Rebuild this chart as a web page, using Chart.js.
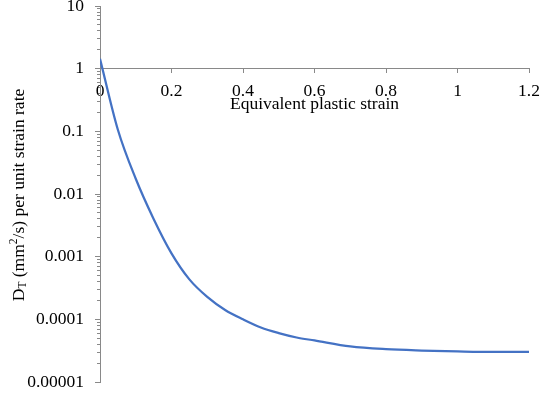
<!DOCTYPE html>
<html>
<head>
<meta charset="utf-8">
<script src="https://cdn.jsdelivr.net/npm/chart.js@4/dist/chart.umd.min.js"></script>
<style>
  html, body { margin: 0; padding: 0; background: #ffffff; }
  #c { display: block; }
</style>
</head>
<body>
<canvas id="c" width="540" height="400"></canvas>
<script>
// ---- data ----
const strain = [0, 0.05, 0.1, 0.15, 0.2, 0.25, 0.3, 0.35, 0.4, 0.45, 0.5, 0.55, 0.6, 0.7, 0.8, 0.9, 1.0, 1.1, 1.2];
const dtValues = [1.44, 0.106, 0.0175, 0.004, 0.00113, 0.000434, 0.000228, 0.000141, 0.0001, 0.0000741, 0.0000603, 0.0000513, 0.000046, 0.0000369, 0.0000334, 0.0000318, 0.0000308, 0.0000302, 0.0000302];
const xTicks = [0, 0.2, 0.4, 0.6, 0.8, 1, 1.2];
const xTickLabels = ['0', '0.2', '0.4', '0.6', '0.8', '1', '1.2'];
const yTickLabels = ['0.00001', '0.0001', '0.001', '0.01', '0.1', '1', '10'];
const xTitle = 'Equivalent plastic strain';
const yTitleParts = ['D', 'T', ' (mm', '2', '/s) per unit strain rate'];

const FONT_FAMILY = "'Liberation Serif', 'Times New Roman', serif";
const FONT = { family: FONT_FAMILY, size: 17.5 };
const AXIS_COLOR = '#898989';
const LINE_COLOR = '#4472C4';

function isPow10(v) {
  const l = Math.log10(v);
  return Math.abs(l - Math.round(l)) < 1e-9;
}
function isIntMantissa(v) {
  const e = Math.floor(Math.log10(v) + 1e-9);
  const m = v / Math.pow(10, e);
  return Math.abs(m - Math.round(m)) < 1e-6;
}
function fmtLog(v) {
  if (!isPow10(v)) return '';
  const e = Math.round(Math.log10(v));
  const idx = e + 5;
  return yTickLabels[idx] !== undefined ? yTickLabels[idx] : '';
}
function fmtX(v) {
  const i = xTicks.findIndex(t => Math.abs(t - v) < 1e-9);
  return i >= 0 ? xTickLabels[i] : '';
}

const yTitlePlugin = {
  id: 'yTitle',
  afterDraw(chart) {
    const ctx = chart.ctx;
    const area = chart.chartArea;
    const big = '17.5px ' + FONT_FAMILY;
    const small = '11.5px ' + FONT_FAMILY;
    const segs = [
      { t: yTitleParts[0], f: big, dy: 0 },
      { t: yTitleParts[1], f: small, dy: 4 },
      { t: yTitleParts[2], f: big, dy: 0 },
      { t: yTitleParts[3], f: small, dy: -5 },
      { t: yTitleParts[4], f: big, dy: 0 }
    ];
    ctx.save();
    ctx.fillStyle = '#000';
    ctx.textBaseline = 'middle';
    ctx.textAlign = 'left';
    let total = 0;
    segs.forEach(s => { ctx.font = s.f; s.w = ctx.measureText(s.t).width; total += s.w; });
    ctx.translate(19, (area.top + area.bottom) / 2 + 1);
    ctx.rotate(-Math.PI / 2);
    let x = -total / 2;
    segs.forEach(s => { ctx.font = s.f; ctx.fillText(s.t, x, s.dy); x += s.w; });
    ctx.restore();
  }
};

new Chart(document.getElementById('c'), {
  type: 'line',
  data: {
    datasets: [{
      data: strain.map((x, i) => ({ x: x, y: dtValues[i] })),
      borderColor: LINE_COLOR,
      borderWidth: 2.25,
      pointRadius: 0,
      fill: false,
      cubicInterpolationMode: 'monotone',
      xAxisID: 'x',
      yAxisID: 'y'
    }]
  },
  options: {
    responsive: false,
    animation: false,
    devicePixelRatio: 1,
    layout: { padding: { left: 0, right: 11, top: 6, bottom: 18 } },
    plugins: { legend: { display: false }, tooltip: { enabled: false } },
    scales: {
      x: {
        type: 'linear',
        axis: 'x',
        position: { y: 1 },
        min: 0,
        max: 1.2,
        afterBuildTicks(s) { s.ticks = xTicks.map(v => ({ value: v })); },
        ticks: { color: '#000', font: FONT, padding: 8, maxRotation: 0, autoSkip: false, callback: (v) => fmtX(v) },
        grid: { drawOnChartArea: false, drawTicks: true, tickLength: 4, color: AXIS_COLOR },
        border: { display: true, color: AXIS_COLOR, width: 1 },
        title: { display: true, text: xTitle, color: '#000', font: FONT, padding: 0 },
        afterFit(s) { s.paddingLeft = 0; s.paddingRight = 0; s.height = 46; }
      },
      y: {
        type: 'logarithmic',
        axis: 'y',
        position: 'left',
        min: 0.00001,
        max: 10,
        afterBuildTicks(s) { s.ticks = s.ticks.filter(t => isPow10(t.value)); },
        ticks: { color: '#000', font: FONT, padding: 11, autoSkip: false, callback: (v) => fmtLog(v) },
        grid: { drawOnChartArea: false, drawTicks: true, tickLength: 5, color: AXIS_COLOR },
        border: { display: true, color: AXIS_COLOR, width: 1 },
        afterFit(s) { s.width = 100; s.paddingTop = 0; s.paddingBottom = 0; }
      },
      yMinor: {
        type: 'logarithmic',
        axis: 'y',
        position: { x: 0 },
        min: 0.00001,
        max: 10,
        afterBuildTicks(s) { s.ticks = s.ticks.filter(t => isIntMantissa(t.value) && !isPow10(t.value)); },
        ticks: { display: false, autoSkip: false },
        grid: { drawOnChartArea: false, drawTicks: true, tickLength: 3, color: AXIS_COLOR },
        border: { display: false },
        afterFit(s) { s.width = 0; s.paddingTop = 0; s.paddingBottom = 0; }
      }
    }
  },
  plugins: [yTitlePlugin]
});
</script>
</body>
</html>
